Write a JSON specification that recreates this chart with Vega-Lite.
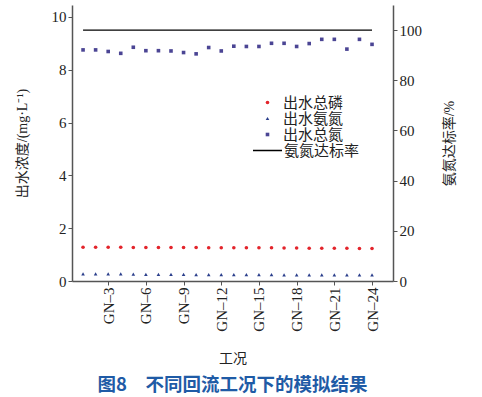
{
  "$schema": "https://vega.github.io/schema/vega-lite/v6.json",
  "width": 321,
  "height": 276,
  "autosize": "none",
  "padding": {"left": 72, "top": 5, "right": 89, "bottom": 116},
  "background": "white",
  "config": {
    "view": {"stroke": null},
    "font": "Liberation Serif, Noto Sans CJK SC",
    "axis": {
      "grid": false,
      "domainColor": "#555555",
      "domainWidth": 1.5,
      "tickColor": "#555555",
      "tickSize": 4,
      "labelFont": "Liberation Serif, Noto Sans CJK SC",
      "labelFontSize": 15,
      "labelColor": "#222222",
      "titleFont": "Liberation Serif, Noto Sans CJK SC",
      "titleFontSize": 14,
      "titleFontWeight": "normal",
      "titleColor": "#222222"
    },
    "legend": {
      "labelFont": "Liberation Serif, Noto Sans CJK SC",
      "labelFontSize": 15,
      "labelColor": "#222222",
      "rowPadding": 0,
      "padding": 0
    }
  },
  "title": {
    "text": "图8　不同回流工况下的模拟结果",
    "orient": "bottom",
    "anchor": "middle",
    "font": "Noto Sans CJK SC",
    "fontSize": 18.5,
    "fontWeight": "bold",
    "color": "#1f5ba6",
    "offset": 11
  },
  "datasets": {
    "conc": [
      {"case": 1, "series": "出水总磷", "v": 1.28}, {"case": 2, "series": "出水总磷", "v": 1.28}, {"case": 3, "series": "出水总磷", "v": 1.28}, {"case": 4, "series": "出水总磷", "v": 1.28},
      {"case": 5, "series": "出水总磷", "v": 1.27}, {"case": 6, "series": "出水总磷", "v": 1.27}, {"case": 7, "series": "出水总磷", "v": 1.27}, {"case": 8, "series": "出水总磷", "v": 1.27},
      {"case": 9, "series": "出水总磷", "v": 1.27}, {"case": 10, "series": "出水总磷", "v": 1.27}, {"case": 11, "series": "出水总磷", "v": 1.26}, {"case": 12, "series": "出水总磷", "v": 1.26},
      {"case": 13, "series": "出水总磷", "v": 1.26}, {"case": 14, "series": "出水总磷", "v": 1.26}, {"case": 15, "series": "出水总磷", "v": 1.26}, {"case": 16, "series": "出水总磷", "v": 1.26},
      {"case": 17, "series": "出水总磷", "v": 1.25}, {"case": 18, "series": "出水总磷", "v": 1.25}, {"case": 19, "series": "出水总磷", "v": 1.24}, {"case": 20, "series": "出水总磷", "v": 1.24},
      {"case": 21, "series": "出水总磷", "v": 1.24}, {"case": 22, "series": "出水总磷", "v": 1.24}, {"case": 23, "series": "出水总磷", "v": 1.23}, {"case": 24, "series": "出水总磷", "v": 1.23},
      {"case": 1, "series": "出水氨氮", "v": 0.27}, {"case": 2, "series": "出水氨氮", "v": 0.27}, {"case": 3, "series": "出水氨氮", "v": 0.27}, {"case": 4, "series": "出水氨氮", "v": 0.27},
      {"case": 5, "series": "出水氨氮", "v": 0.26}, {"case": 6, "series": "出水氨氮", "v": 0.25}, {"case": 7, "series": "出水氨氮", "v": 0.25}, {"case": 8, "series": "出水氨氮", "v": 0.25},
      {"case": 9, "series": "出水氨氮", "v": 0.25}, {"case": 10, "series": "出水氨氮", "v": 0.24}, {"case": 11, "series": "出水氨氮", "v": 0.24}, {"case": 12, "series": "出水氨氮", "v": 0.24},
      {"case": 13, "series": "出水氨氮", "v": 0.24}, {"case": 14, "series": "出水氨氮", "v": 0.24}, {"case": 15, "series": "出水氨氮", "v": 0.24}, {"case": 16, "series": "出水氨氮", "v": 0.24},
      {"case": 17, "series": "出水氨氮", "v": 0.23}, {"case": 18, "series": "出水氨氮", "v": 0.23}, {"case": 19, "series": "出水氨氮", "v": 0.23}, {"case": 20, "series": "出水氨氮", "v": 0.23},
      {"case": 21, "series": "出水氨氮", "v": 0.23}, {"case": 22, "series": "出水氨氮", "v": 0.23}, {"case": 23, "series": "出水氨氮", "v": 0.23}, {"case": 24, "series": "出水氨氮", "v": 0.23},
      {"case": 1, "series": "出水总氮", "v": 8.75}, {"case": 2, "series": "出水总氮", "v": 8.75}, {"case": 3, "series": "出水总氮", "v": 8.69}, {"case": 4, "series": "出水总氮", "v": 8.62},
      {"case": 5, "series": "出水总氮", "v": 8.85}, {"case": 6, "series": "出水总氮", "v": 8.72}, {"case": 7, "series": "出水总氮", "v": 8.72}, {"case": 8, "series": "出水总氮", "v": 8.71},
      {"case": 9, "series": "出水总氮", "v": 8.65}, {"case": 10, "series": "出水总氮", "v": 8.6}, {"case": 11, "series": "出水总氮", "v": 8.84}, {"case": 12, "series": "出水总氮", "v": 8.71},
      {"case": 13, "series": "出水总氮", "v": 8.89}, {"case": 14, "series": "出水总氮", "v": 8.88}, {"case": 15, "series": "出水总氮", "v": 8.88}, {"case": 16, "series": "出水总氮", "v": 9.0},
      {"case": 17, "series": "出水总氮", "v": 9.0}, {"case": 18, "series": "出水总氮", "v": 8.88}, {"case": 19, "series": "出水总氮", "v": 8.99}, {"case": 20, "series": "出水总氮", "v": 9.15},
      {"case": 21, "series": "出水总氮", "v": 9.15}, {"case": 22, "series": "出水总氮", "v": 8.78}, {"case": 23, "series": "出水总氮", "v": 9.15}, {"case": 24, "series": "出水总氮", "v": 8.96}
    ],
    "rate": [
      {"case": 1, "series": "氨氮达标率", "rate": 100},
      {"case": 24, "series": "氨氮达标率", "rate": 100}
    ]
  },
  "layer": [
    {
      "data": {"name": "conc"},
      "mark": {"type": "point", "filled": true, "opacity": 1, "size": 13},
      "encoding": {
        "x": {
          "field": "case", "type": "quantitative",
          "scale": {"domain": [0.12, 25.67], "nice": false, "zero": false},
          "axis": {
            "values": [3, 6, 9, 12, 15, 18, 21, 24],
            "labelExpr": "'GN–' + datum.value",
            "labelAngle": -90,
            "title": "工况",
            "titlePadding": 20
          }
        },
        "y": {
          "field": "v", "type": "quantitative",
          "scale": {"domain": [0, 10.45], "nice": false},
          "axis": {"values": [0, 2, 4, 6, 8, 10], "title": "出水浓度/(mg·L⁻¹)", "titlePadding": 22}
        },
        "color": {
          "field": "series", "type": "nominal",
          "scale": {"domain": ["出水总磷", "出水氨氮", "出水总氮"], "range": ["#e3242b", "#2b3f8c", "#4b4594"]},
          "legend": {"title": null, "orient": "none", "legendX": 188, "legendY": 90, "symbolSize": 13, "labelOffset": 8}
        },
        "shape": {
          "field": "series", "type": "nominal",
          "scale": {"domain": ["出水总磷", "出水氨氮", "出水总氮"], "range": ["circle", "triangle-up", "square"]}
        }
      }
    },
    {
      "data": {"name": "rate"},
      "mark": {"type": "line", "strokeWidth": 1.3, "color": "#000000"},
      "encoding": {
        "x": {"field": "case", "type": "quantitative"},
        "y": {
          "field": "rate", "type": "quantitative",
          "scale": {"domain": [0, 110], "nice": false},
          "axis": {"orient": "right", "values": [0, 20, 40, 60, 80, 100], "title": "氨氮达标率/%", "titleAngle": -90, "titlePadding": 35, "titleColor": "#222222"}
        },
        "strokeDash": {
          "field": "series", "type": "nominal",
          "scale": {"domain": ["氨氮达标率"], "range": [[1, 0]]},
          "legend": {"title": null, "orient": "none", "legendX": 180, "legendY": 130, "symbolType": "stroke", "symbolSize": 841, "symbolStrokeColor": "#000000", "symbolStrokeWidth": 1.3, "labelOffset": 1}
        }
      }
    }
  ],
  "resolve": {"scale": {"y": "independent"}}
}
